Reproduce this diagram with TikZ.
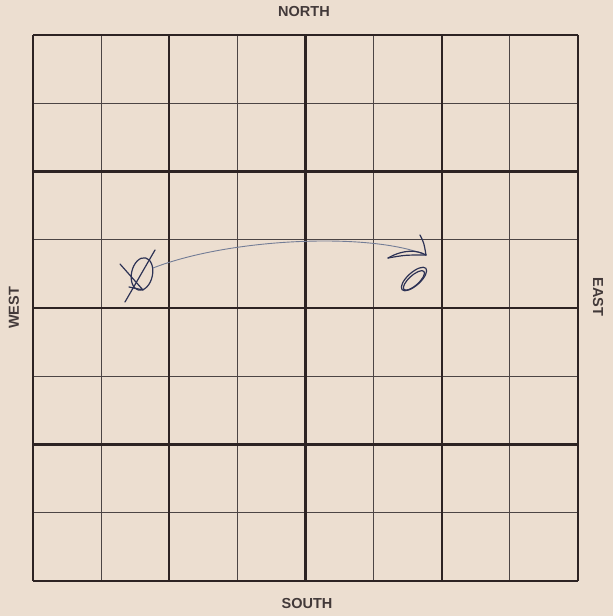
\documentclass[tikz,border=0pt]{standalone}
\usepackage{fontspec}
\setmainfont{Liberation Sans}
\definecolor{paper}{RGB}{236,222,208}
\definecolor{ink}{RGB}{45,35,35}
\definecolor{pen}{RGB}{45,50,85}
\definecolor{pencil}{RGB}{115,125,150}
\tikzset{
  thinline/.style={draw=ink!85, line width=1pt},
  thickline/.style={draw=ink, line width=2.2pt},
  side/.style={font=\fontsize{14.5}{16}\selectfont\bfseries, text=ink!90},
  hand/.style={draw=pen, line width=1.2pt, line cap=round, line join=round}
}
\begin{document}
\begin{tikzpicture}[x=1pt,y=-1pt]
            % Paper
            \fill[paper] (0,0) rectangle (613,616);
            \useasboundingbox (0,0) rectangle (613,616);

            % Thin grid
            \foreach \i in {1,3,5,7} {
              \draw[thinline] (33+68.1*\i,35) -- (33+68.1*\i,581);
              \draw[thinline] (33,35+68.25*\i) -- (578,35+68.25*\i);
            }

            % Thick grid
            \foreach \i in {0,2,4,6,8} {
              \draw[thickline] (33+68.1*\i,35) -- (33+68.1*\i,581);
              \draw[thickline] (33,35+68.25*\i) -- (578,35+68.25*\i);
            }

            % Labels
            \node[side] (north) at (304,12) {NORTH};
            \node[side] (south) at (307,604) {SOUTH};
            \node[side, rotate=90] (west) at (14,308) {WEST};
            \node[side, rotate=-90] (east) at (598,297) {EAST};

            % Crossed mark
            \coordinate (start) at (142,274);
            \draw[hand, rotate around={-12:(start)}] (start) ellipse (10.5 and 16.5);
            \draw[hand] (155,250) -- (125,302);
            \draw[hand] (120,264) -- (143,290) -- (129,287);

            % Move
            \coordinate (tip) at (426,255);
            \draw[pencil, line width=0.9pt] (153,268) .. controls (230,238) and (370,232) .. (tip);
            \draw[hand] (420,235) .. controls (424,243) .. (tip);
            \draw[hand] (388,258) .. controls (404,249) and (417,250) .. (tip);
            \draw[hand] (388,258) .. controls (405,255) .. (tip);

            % Target mark
            \coordinate (goal) at (414,279);
            \draw[hand, rotate around={42:(goal)}] (goal) ellipse (16 and 6.5);
            \draw[hand, rotate around={42:(goal)}] ([shift={(-1,1)}]goal) ellipse (13.5 and 5);
        \end{tikzpicture}
\end{document}
